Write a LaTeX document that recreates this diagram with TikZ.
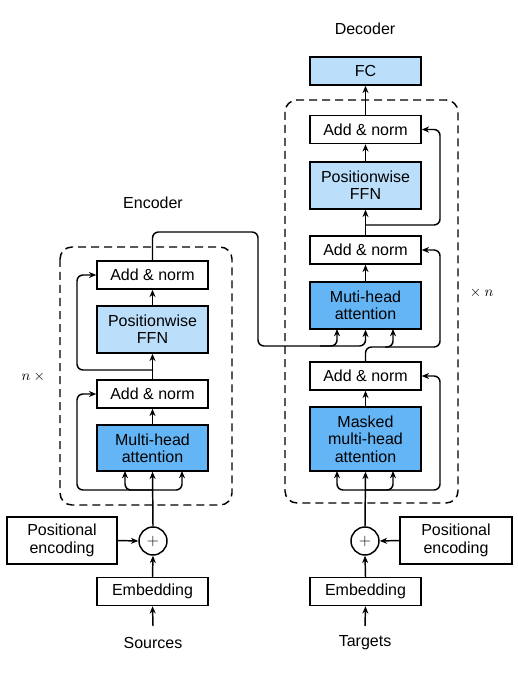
\documentclass[tikz,border=0pt]{standalone}
\usepackage{fontspec}
\setmainfont{Liberation Sans}
\usetikzlibrary{arrows.meta,calc}
\definecolor{ffnblue}{HTML}{BBDEFB}
\definecolor{attblue}{HTML}{64B5F6}
\tikzset{
  blk/.style={draw=black,line width=1.1pt,inner sep=0pt,minimum width=83.25pt,minimum height=21pt,align=center,font=\fontsize{12}{13}\selectfont},
  ffn/.style={blk,fill=ffnblue,minimum height=35.25pt},
  att/.style={blk,fill=attblue,minimum height=34.5pt},
  lbl/.style={inner sep=0pt,font=\fontsize{12}{13}\selectfont},
  mlbl/.style={inner sep=0pt,font=\fontsize{10.5}{12}\selectfont},
  arr/.style={line width=1.1pt,-{Stealth[length=5.5pt,width=4.5pt]}},
  rc/.style={rounded corners=4.5pt},
  dbox/.style={draw,line width=1.1pt,dash pattern=on 6pt off 3.75pt,rounded corners=9pt},
  plus/.style={draw,circle,line width=1.1pt,minimum size=21pt,inner sep=0pt,font=\fontsize{12}{12}\selectfont}
}
\begin{document}
\begin{tikzpicture}[x=0.75pt,y=-0.75pt]
\useasboundingbox (0,0) rectangle (517,680);
% dashed boxes
\draw[dbox] (60,247) rectangle (232,505);
\draw[dbox] (285,100) rectangle (458,503);
% labels
\node[lbl] (enclbl) at (153,203) {Encoder};
\node[lbl] (declbl) at (365,29) {Decoder};
\node[mlbl] (nx) at (35,377) {$n\times{}$};
\node[mlbl] (xn) at (480,293) {${}\times n$};
% encoder nodes
\node[blk] (an2e) at (152.5,275) {Add \& norm};
\node[ffn] (ffne) at (152.5,329.5) {Positionwise\\FFN};
\node[blk] (an1e) at (152.5,394) {Add \& norm};
\node[att] (atte) at (152.5,448) {Multi-head\\attention};
\node[plus] (pluse) at (153,541) {$+$};
\node[blk,minimum width=82.5pt,minimum height=35.25pt] (pose) at (62,540.5) {Positional\\encoding};
\node[blk] (embe) at (152.5,591.5) {Embedding};
\node[lbl] (src) at (153,643) {Sources};
\coordinate (srcin) at (153,626);
% decoder nodes
\node[blk,fill=ffnblue] (fc) at (365.5,71) {FC};
\node[blk] (an3d) at (365.5,129.5) {Add \& norm};
\node[ffn] (ffnd) at (365.5,185.5) {Positionwise\\FFN};
\node[blk] (an2d) at (365.5,250) {Add \& norm};
\node[att,minimum height=35.25pt] (attd) at (365.5,305.5) {Muti-head\\attention};
\node[blk] (an1d) at (365.5,376) {Add \& norm};
\node[att,minimum height=48pt] (mask) at (365.5,439) {Masked\\multi-head\\attention};
\node[plus] (plusd) at (365,541) {$+$};
\node[blk,minimum width=84pt,minimum height=35.25pt] (posd) at (456,540.5) {Positional\\encoding};
\node[blk] (embd) at (365.5,591.5) {Embedding};
\node[lbl] (tgt) at (365,643) {Targets};
\coordinate (tgtin) at (365,626);
% encoder connectors
\draw[arr] (srcin) -- (embe.south);
\draw[arr] (embe.north) -- (pluse.south);
\draw[arr] (pose.east) -- (pluse.west);
\draw[arr] (pluse.north) -- (atte.south);
\coordinate (eb) at (153,490);
\draw[arr,rc] (eb) -| (125,471);
\draw[arr,rc] (eb) -| (182,471);
\draw[arr,rc] (eb) -| (77,394) -- (an1e.west);
\draw[arr] (atte.north) -- (an1e.south);
\draw[arr] (an1e.north) -- (ffne.south);
\coordinate (er) at (153,370);
\draw[arr,rc] (er) -| (77,275) -- (an2e.west);
\draw[arr] (ffne.north) -- (an2e.south);
% encoder to decoder
\draw[arr,rc] (an2e.north) |- (258,232) -- (258,346) -| (attd.south);
\draw[arr,rc] (320,346) -| (337,329);
% decoder connectors
\draw[arr] (tgtin) -- (embd.south);
\draw[arr] (embd.north) -- (plusd.south);
\draw[arr] (posd.west) -- (plusd.east);
\draw[arr] (plusd.north) -- (mask.south);
\coordinate (db) at (365,490);
\draw[arr,rc] (db) -| (337,471);
\draw[arr,rc] (db) -| (393,471);
\draw[arr,rc] (db) -| (440,376) -- (an1d.east);
\draw[arr] (mask.north) -- (an1d.south);
\draw[arr,rc] (an1d.north) |- (380,347) -| (393,329);
\draw[arr,rc] (385,347) -| (440,250) -- (an2d.east);
\draw[arr] (attd.north) -- (an2d.south);
\draw[arr] (an2d.north) -- (ffnd.south);
\coordinate (dr) at (365.5,225);
\draw[arr,rc] (dr) -| (440,129.5) -- (an3d.east);
\draw[arr] (ffnd.north) -- (an3d.south);
\draw[arr] (an3d.north) -- (fc.south);
\end{tikzpicture}
\end{document}
